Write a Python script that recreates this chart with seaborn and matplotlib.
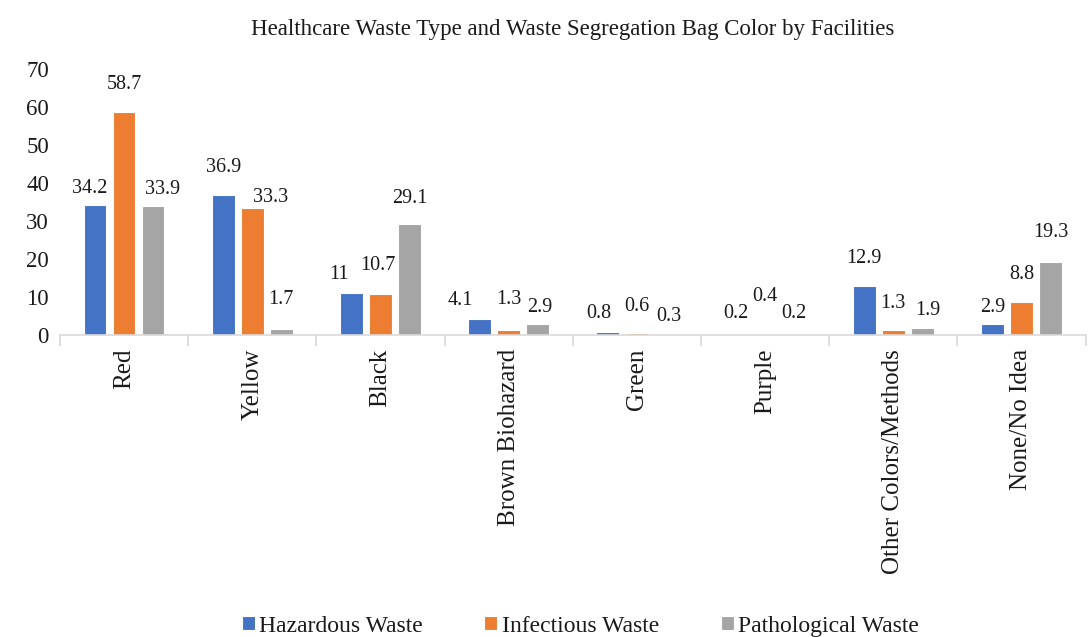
import matplotlib
matplotlib.use('Agg')
import matplotlib.pyplot as plt
import pandas as pd
import seaborn as sns

categories = ['Red', 'Yellow', 'Black', 'Brown Biohazard', 'Green', 'Purple',
              'Other Colors/Methods', 'None/No Idea']
hazardous = [34.2, 36.9, 11, 4.1, 0.8, 0.2, 12.9, 2.9]
infectious = [58.7, 33.3, 10.7, 1.3, 0.6, 0.4, 1.3, 8.8]
pathological = [33.9, 1.7, 29.1, 2.9, 0.3, 0.2, 1.9, 19.3]
series = ['Hazardous Waste', 'Infectious Waste', 'Pathological Waste']
colors = ['#4472C4', '#ED7D31', '#A5A5A5']

# label nudges (points), (category, series) -> (dx, dy), as the original spreads them
nudges = {(0, 0): (-4, 0), (0, 1): (0, 8), (0, 2): (6.5, 0),
          (1, 0): (0, 8), (1, 1): (13, -4), (1, 2): (0, 9),
          (2, 0): (-9, 1.5), (2, 1): (-1.5, 9), (2, 2): (0, 7),
          (3, 0): (-14, 2), (3, 1): (0, 10), (3, 2): (1.5, 0),
          (4, 0): (-6.5, 1.5), (4, 1): (0, 7), (4, 2): (2, 1),
          (5, 0): (0, 3), (5, 1): (0, 15), (5, 2): (0, 3),
          (6, 0): (0, 8), (6, 1): (0, 7), (6, 2): (4, 1),
          (7, 0): (0, 0), (7, 1): (0, 8), (7, 2): (0, 9)}

df = pd.DataFrame({'Color': categories, series[0]: hazardous,
                   series[1]: infectious, series[2]: pathological})
df = df.melt(id_vars='Color', var_name='Type', value_name='Percent')

sns.set_style('white')
plt.rcParams['font.family'] = ['Liberation Serif', 'DejaVu Serif']

fig, ax = plt.subplots(figsize=(10.91, 6.37), dpi=100)
fig.subplots_adjust(left=0.055, right=0.995, bottom=0.474, top=0.892)

ax = sns.barplot(data=df, x='Color', y='Percent', hue='Type', palette=colors,
                 width=0.68, gap=0.22, ax=ax, saturation=1,
                 edgecolor='white', linewidth=0.8)

for j, cont in enumerate(ax.containers):
    for i, (bar, v) in enumerate(zip(cont.patches, cont.datavalues)):
        dx, dy = nudges.get((i, j), (0, 0))
        ax.annotate('%g' % v, (bar.get_x() + bar.get_width() / 2, bar.get_height()),
                    xytext=(dx, 5 + dy), textcoords='offset points',
                    ha='center', va='bottom', fontsize=14.5, color='#1a1a1a')

ax.set_ylim(0, 70)
ax.set_yticks(range(0, 71, 10))
ax.set_xlim(-0.5, len(categories) - 0.5)
ax.set(xlabel='', ylabel='')
ax.tick_params(axis='y', labelsize=16.5, length=0, pad=8, labelcolor='#1a1a1a')
ax.tick_params(axis='x', labelsize=18, length=0, pad=10, labelcolor='#1a1a1a')
plt.setp(ax.get_xticklabels(), rotation=90)
ax.set_xticks([i + 0.5 for i in range(-1, len(categories))], minor=True)
ax.tick_params(axis='x', which='minor', length=8, color='#D9D9D9', width=1.2, direction='out')
ax.tick_params(axis='x', which='minor', bottom=True)

for s in ['top', 'right', 'left']:
    ax.spines[s].set_visible(False)
ax.spines['bottom'].set_color('#D9D9D9')
ax.spines['bottom'].set_linewidth(1.2)

ax.set_title('Healthcare Waste Type and Waste Segregation Bag Color by Facilities',
             fontsize=16.5, pad=24, color='#1a1a1a')

h, l = ax.get_legend_handles_labels()
ax.legend(h, l, loc='lower center', bbox_to_anchor=(0.532, -0.018), bbox_transform=fig.transFigure,
          ncol=3, frameon=False, fontsize=17, handlelength=0.55, handleheight=0.55,
          columnspacing=2.6, handletextpad=0.2, borderaxespad=0.1, labelcolor='#1a1a1a')

fig.savefig('out.png', dpi=100)
